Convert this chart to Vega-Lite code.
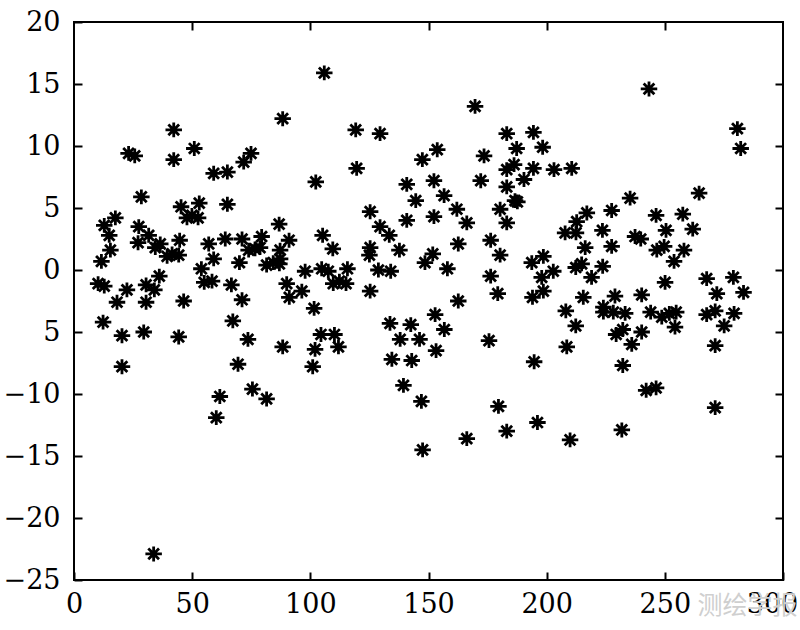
{
  "$schema": "https://vega.github.io/schema/vega-lite/v6.json",
  "width": 709,
  "height": 558,
  "autosize": {"type": "none"},
  "padding": {"left": 74, "top": 22, "right": 17, "bottom": 50},
  "background": "white",
  "config": {
    "view": {"stroke": "#000", "strokeWidth": 2},
    "axis": {"labelFont": "DejaVu Serif", "labelFontSize": 27, "labelColor": "#000", "grid": false, "domain": false, "tickColor": "#000", "tickWidth": 2, "tickSize": -8, "title": null, "zindex": 1}
  },
  "datasets": {
    "pts": [
      {"x":42.2,"y":11.3},{"x":23.1,"y":9.4},{"x":25.7,"y":9.2},{"x":42.2,"y":8.9},{"x":50.9,"y":9.8},{"x":59.1,"y":7.8},{"x":64.9,"y":7.9},{"x":71.8,"y":8.7},{"x":74.9,"y":9.4},{"x":28.5,"y":5.9},{"x":45.3,"y":5.1},{"x":53,"y":5.4},{"x":64.9,"y":5.3},{"x":17.5,"y":4.2},{"x":12.8,"y":3.6},{"x":14.9,"y":2.8},{"x":27.4,"y":3.5},{"x":31.6,"y":2.8},{"x":27.1,"y":2.2},{"x":15.4,"y":1.6},{"x":11.6,"y":0.7},{"x":34.4,"y":1.8},{"x":36.5,"y":2.1},{"x":39.4,"y":1.1},{"x":41.5,"y":1.3},{"x":44.3,"y":1.2},{"x":44.7,"y":2.4},{"x":47.8,"y":4.2},{"x":49.9,"y":4.4},{"x":52.5,"y":4.2},{"x":57,"y":2.1},{"x":53.9,"y":0.1},{"x":59.1,"y":0.9},{"x":64,"y":2.5},{"x":71.1,"y":2.5},{"x":73.9,"y":1.6},{"x":70,"y":0.6},{"x":55.1,"y":-1.0},{"x":58.4,"y":-0.9},{"x":66.6,"y":-1.2},{"x":10.2,"y":-1.1},{"x":12.8,"y":-1.3},{"x":22.4,"y":-1.6},{"x":30.5,"y":-1.2},{"x":34,"y":-1.6},{"x":36.1,"y":-0.5},{"x":18.2,"y":-2.6},{"x":30.5,"y":-2.6},{"x":46.4,"y":-2.5},{"x":71.1,"y":-2.4},{"x":12.3,"y":-4.2},{"x":20.3,"y":-5.3},{"x":29.5,"y":-5.0},{"x":44.3,"y":-5.4},{"x":67.2,"y":-4.1},{"x":73.6,"y":-5.6},{"x":20.3,"y":-7.8},{"x":69.4,"y":-7.6},{"x":61.7,"y":-10.2},{"x":60.2,"y":-11.9},{"x":75.5,"y":-9.6},{"x":33.7,"y":-22.9},
      {"x":105.9,"y":15.9},{"x":88.3,"y":12.2},{"x":119.2,"y":11.3},{"x":129.5,"y":11.0},{"x":119.6,"y":8.2},{"x":102.3,"y":7.1},{"x":140.8,"y":6.9},{"x":144.6,"y":5.6},{"x":125.3,"y":4.7},{"x":140.8,"y":4.0},{"x":129.5,"y":3.5},{"x":133.4,"y":2.8},{"x":86.8,"y":3.7},{"x":79.4,"y":2.7},{"x":91,"y":2.4},{"x":105.2,"y":2.8},{"x":109.5,"y":1.7},{"x":125.3,"y":1.8},{"x":125,"y":1.2},{"x":137.7,"y":1.6},{"x":76.6,"y":1.7},{"x":78.7,"y":1.8},{"x":87.2,"y":1.6},{"x":81.5,"y":0.4},{"x":84.3,"y":0.6},{"x":86.9,"y":0.5},{"x":87.2,"y":0.9},{"x":97.8,"y":-0.1},{"x":104.8,"y":0.1},{"x":107.6,"y":-0.1},{"x":115.7,"y":0.1},{"x":128.8,"y":0.0},{"x":134,"y":-0.1},{"x":90,"y":-1.1},{"x":96.4,"y":-1.7},{"x":109.7,"y":-1.1},{"x":112.3,"y":-0.9},{"x":115.1,"y":-1.1},{"x":125.3,"y":-1.7},{"x":91.1,"y":-2.2},{"x":101.6,"y":-3.1},{"x":88.3,"y":-6.2},{"x":104.5,"y":-5.2},{"x":110.2,"y":-5.2},{"x":102,"y":-6.4},{"x":111.9,"y":-6.2},{"x":101,"y":-7.8},{"x":81.5,"y":-10.4},{"x":133.7,"y":-4.3},{"x":142.5,"y":-4.4},{"x":138,"y":-5.6},{"x":146.2,"y":-5.6},{"x":134.5,"y":-7.2},{"x":142.9,"y":-7.3},{"x":139.4,"y":-9.3},
      {"x":169.7,"y":13.2},{"x":183.1,"y":11.0},{"x":194.4,"y":11.1},{"x":187.3,"y":9.8},{"x":198.3,"y":9.9},{"x":153.7,"y":9.7},{"x":147.4,"y":8.9},{"x":173.5,"y":9.2},{"x":183.1,"y":8.1},{"x":186.2,"y":8.5},{"x":194.4,"y":8.2},{"x":203.1,"y":8.1},{"x":210.6,"y":8.2},{"x":152.3,"y":7.2},{"x":172.1,"y":7.2},{"x":190.4,"y":7.3},{"x":183.1,"y":6.7},{"x":156.6,"y":6.0},{"x":186.6,"y":5.6},{"x":187.6,"y":5.5},{"x":162,"y":4.9},{"x":180.3,"y":4.9},{"x":152.3,"y":4.3},{"x":166.2,"y":3.8},{"x":183.1,"y":3.8},{"x":217,"y":4.6},{"x":212.7,"y":3.9},{"x":207.8,"y":3.0},{"x":212.4,"y":3.0},{"x":162.6,"y":2.1},{"x":176.3,"y":2.4},{"x":216.3,"y":1.8},{"x":151.8,"y":1.3},{"x":148.5,"y":0.6},{"x":158,"y":0.1},{"x":180.3,"y":1.2},{"x":193.7,"y":0.6},{"x":198.6,"y":1.1},{"x":202.8,"y":-0.1},{"x":212.3,"y":0.2},{"x":214.8,"y":0.5},{"x":219,"y":-0.6},{"x":176.3,"y":-0.5},{"x":197.9,"y":-0.6},{"x":179.3,"y":-1.9},{"x":198.6,"y":-1.7},{"x":194,"y":-2.2},{"x":215.5,"y":-2.2},{"x":162.6,"y":-2.5},{"x":152.8,"y":-3.6},{"x":156.7,"y":-4.8},{"x":153.2,"y":-6.5},{"x":175.6,"y":-5.7},{"x":194.7,"y":-7.4},{"x":208.1,"y":-3.3},{"x":212.3,"y":-4.5},{"x":208.5,"y":-6.2},{"x":147,"y":-10.6},{"x":147.5,"y":-14.5},{"x":179.6,"y":-11.0},{"x":183.1,"y":-13.0},{"x":196.1,"y":-12.3},{"x":166.2,"y":-13.6},{"x":209.9,"y":-13.7},
      {"x":243.3,"y":14.6},{"x":280.7,"y":11.4},{"x":282.1,"y":9.8},{"x":264.5,"y":6.2},{"x":235.3,"y":5.8},{"x":227.5,"y":4.8},{"x":246.3,"y":4.4},{"x":257.6,"y":4.5},{"x":223.6,"y":3.2},{"x":250.5,"y":3.2},{"x":261.8,"y":3.3},{"x":237.4,"y":2.7},{"x":239.8,"y":2.5},{"x":227.5,"y":1.9},{"x":246.6,"y":1.6},{"x":249.7,"y":1.9},{"x":258.1,"y":1.6},{"x":223.7,"y":0.3},{"x":253.9,"y":0.7},{"x":250.1,"y":-1.0},{"x":267.7,"y":-0.7},{"x":279,"y":-0.6},{"x":272,"y":-1.9},{"x":283.3,"y":-1.8},{"x":228.9,"y":-2.1},{"x":240.2,"y":-2.0},{"x":224,"y":-3.0},{"x":224,"y":-3.4},{"x":228.2,"y":-3.4},{"x":233.2,"y":-3.5},{"x":244,"y":-3.4},{"x":248.7,"y":-3.8},{"x":251.9,"y":-3.5},{"x":254.8,"y":-3.4},{"x":254.3,"y":-4.6},{"x":267.7,"y":-3.6},{"x":271.3,"y":-3.3},{"x":279.3,"y":-3.5},{"x":275.1,"y":-4.5},{"x":271.3,"y":-6.1},{"x":271.3,"y":-11.1},{"x":229.4,"y":-5.2},{"x":232.2,"y":-4.8},{"x":240.2,"y":-5.0},{"x":236,"y":-6.0},{"x":232.2,"y":-7.7},{"x":242.1,"y":-9.7},{"x":246.3,"y":-9.5},{"x":231.8,"y":-12.9}
    ]
  },
  "data": {"name": "pts"},
  "resolve": {"axis": {"x": "independent", "y": "independent"}},
  "layer": [
    {
      "mark": {"type": "point", "shape": "M-1,0L1,0M0,-0.9L0,0.9M-0.65,-0.65L0.65,0.65M-0.65,0.65L0.65,-0.65", "filled": false, "stroke": "#000", "strokeWidth": 2.8, "size": 272, "opacity": 1},
      "encoding": {
        "x": {"field": "x", "type": "quantitative", "scale": {"domain": [0, 300], "nice": false, "zero": false},
              "axis": {"orient": "bottom", "values": [0, 50, 100, 150, 200, 250, 300], "labelPadding": 19, "labelFlush": false, "labelOffset": {"condition": {"test": "datum.value == 300", "value": -11}, "value": 0}}},
        "y": {"field": "y", "type": "quantitative", "scale": {"domain": [-25, 20], "nice": false, "zero": false},
              "axis": {"orient": "left", "values": [-25, -20, -15, -10, -5, 0, 5, 10, 15, 20], "labelPadding": 22, "labelFlush": false, "labelExpr": "datum.value == -5 ? '5' : datum.label"}}
      }
    },
    {
      "mark": {"type": "point", "opacity": 0},
      "encoding": {
        "x": {"field": "x", "type": "quantitative", "scale": {"domain": [0, 300], "nice": false, "zero": false},
              "axis": {"orient": "top", "values": [50, 100, 150, 200, 250], "labels": false}},
        "y": {"field": "y", "type": "quantitative", "scale": {"domain": [-25, 20], "nice": false, "zero": false},
              "axis": {"orient": "right", "values": [-20, -15, -10, -5, 0, 5, 10, 15], "labels": false}}
      }
    },
    {
      "data": {"values": [{"t": "测绘学报"}]},
      "mark": {"type": "text", "font": "Noto Sans CJK SC", "fontSize": 25, "color": "#cfcfcf", "align": "center", "baseline": "middle", "clip": false},
      "encoding": {
        "text": {"field": "t"},
        "x": {"datum": 285, "type": "quantitative", "axis": null},
        "y": {"datum": -27.1, "type": "quantitative", "axis": null}
      }
    }
  ]
}
